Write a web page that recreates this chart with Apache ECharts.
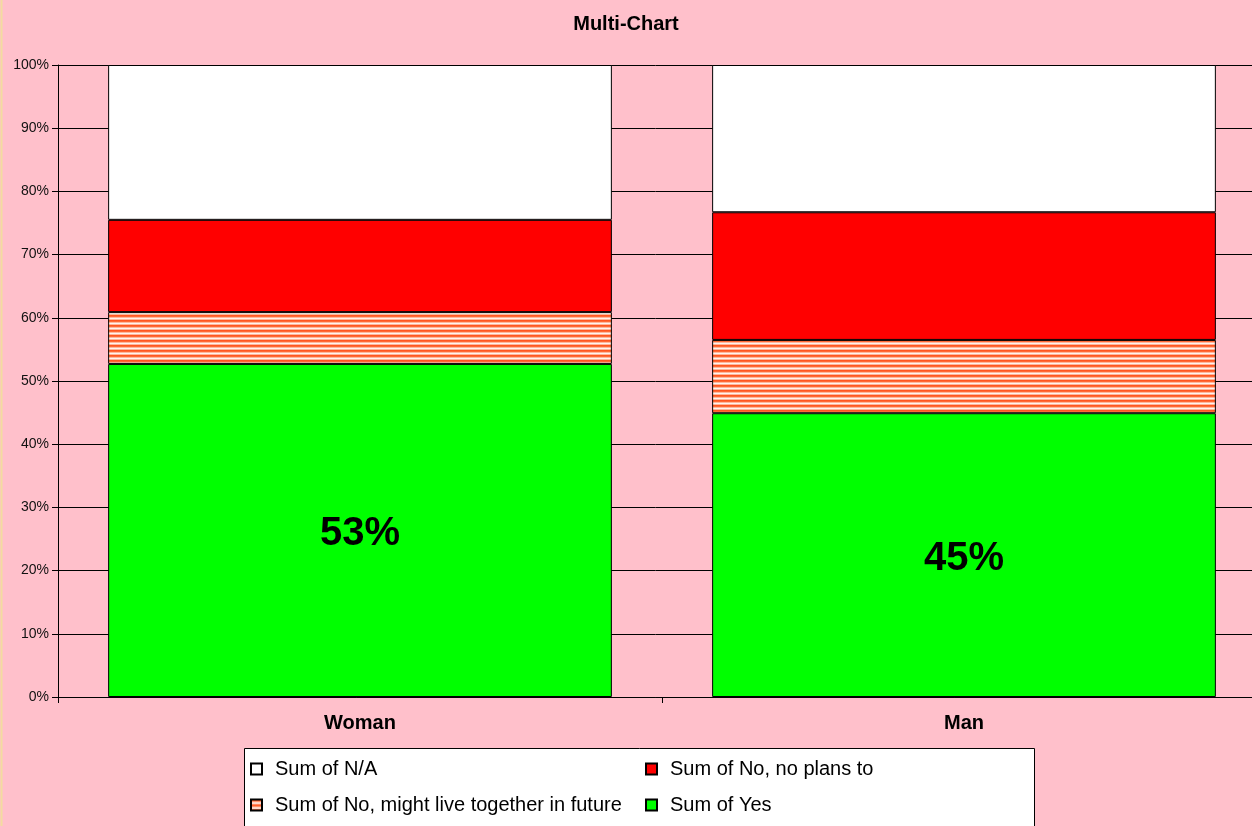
<!DOCTYPE html>
<html>
<head>
<meta charset="utf-8">
<script src="https://cdn.jsdelivr.net/npm/echarts@6/dist/echarts.min.js"></script>
<style>
  html, body { margin: 0; padding: 0; background: #ffc0cb; }
  #chart { width: 1252px; height: 826px; }
</style>
</head>
<body>
<div id="chart"></div>
<script>
// data (percent of each group)
const categories = ['Woman', 'Man'];
const yesValues = [52.7, 44.9];
const mightValues = [8.2, 11.6];
const noPlansValues = [14.6, 20.2];
const naValues = [24.5, 23.3];
const yTicks = [0, 10, 20, 30, 40, 50, 60, 70, 80, 90, 100];

// striped fill for "might live together"
function stripePattern() {
    const c = document.createElement('canvas');
    c.width = 4;
    c.height = 5;
    const ctx = c.getContext('2d');
    const rows = ['#ff5722', '#ff6a36', '#ffb79c', '#fff3ee', '#ffb79c'];
    rows.forEach((col, i) => {
        ctx.fillStyle = col;
        ctx.fillRect(0, i, 4, 1);
    });
    return { image: c, repeat: 'repeat' };
}

const myChart = echarts.init(document.getElementById('chart'));
const font = 'Liberation Sans, Arial, sans-serif';
const border = { borderColor: '#000', borderWidth: 1 };
const legendText = { fontFamily: font, fontSize: 20, color: '#000', padding: [0, 0, 0, 8], lineHeight: 20 };

let option = {
    backgroundColor: '#ffc0cb',
    title: {
        text: 'Multi-Chart',
        left: 'center',
        top: 9,
        textStyle: { fontFamily: font, fontSize: 20, fontWeight: 'bold', color: '#000' }
    },
    // plot area runs past the right edge of the picture
    grid: { left: 58, width: 1208, top: 65, bottom: 129, containLabel: false, outerBoundsMode: 'none' },
    xAxis: {
        type: 'category',
        data: categories,
        axisLine: { lineStyle: { color: '#000', width: 1 } },
        axisTick: { show: true, length: 6, lineStyle: { color: '#000' } },
        axisLabel: { margin: 16, fontFamily: font, fontSize: 20, fontWeight: 'bold', color: '#000' }
    },
    yAxis: {
        type: 'value',
        min: yTicks[0],
        max: yTicks[yTicks.length - 1],
        interval: 10,
        axisLine: { show: true, lineStyle: { color: '#000', width: 1 } },
        axisTick: { show: true, length: 6, lineStyle: { color: '#000' } },
        axisLabel: { formatter: '{value}%', margin: 9, fontFamily: font, fontSize: 14, color: '#111' },
        splitLine: { show: true, lineStyle: { color: '#000', width: 1 } }
    },
    legend: [
        {
            orient: 'vertical',
            left: 250,
            top: 759,
            padding: 0,
            icon: 'rect',
            itemWidth: 11,
            itemHeight: 11,
            itemGap: 16,
            data: ['Sum of N/A', 'Sum of No, might live together in future'],
            textStyle: legendText
        },
        {
            orient: 'vertical',
            left: 645,
            top: 759,
            padding: 0,
            icon: 'rect',
            itemWidth: 11,
            itemHeight: 11,
            itemGap: 16,
            data: ['Sum of No, no plans to', 'Sum of Yes'],
            textStyle: legendText
        }
    ],
    graphic: [
        {
            type: 'rect',
            z: 1,
            shape: { x: 244.5, y: 748.5, width: 790, height: 100 },
            style: { fill: '#fff', stroke: '#000', lineWidth: 1 }
        },
        {
            type: 'line',
            z: 1,
            shape: { x1: 1.5, y1: 0, x2: 1.5, y2: 826 },
            style: { stroke: '#f3dca0', lineWidth: 2 }
        }
    ],
    series: [
        {
            name: 'Sum of Yes',
            type: 'bar',
            stack: 'all',
            barCategoryGap: '16.6%',
            data: yesValues,
            itemStyle: Object.assign({ color: '#00ff00' }, border),
            label: {
                show: true,
                position: 'inside',
                offset: [0, 4],
                formatter: (p) => Math.round(p.value) + '%',
                fontFamily: font,
                fontSize: 40,
                fontWeight: 'bold',
                color: '#000'
            }
        },
        {
            name: 'Sum of No, might live together in future',
            type: 'bar',
            stack: 'all',
            data: mightValues,
            itemStyle: Object.assign({ color: stripePattern() }, border)
        },
        {
            name: 'Sum of No, no plans to',
            type: 'bar',
            stack: 'all',
            data: noPlansValues,
            itemStyle: Object.assign({ color: '#ff0000' }, border)
        },
        {
            name: 'Sum of N/A',
            type: 'bar',
            stack: 'all',
            data: naValues,
            itemStyle: Object.assign({ color: '#ffffff' }, border)
        }
    ]
};

option && myChart.setOption(option);
</script>
</body>
</html>
